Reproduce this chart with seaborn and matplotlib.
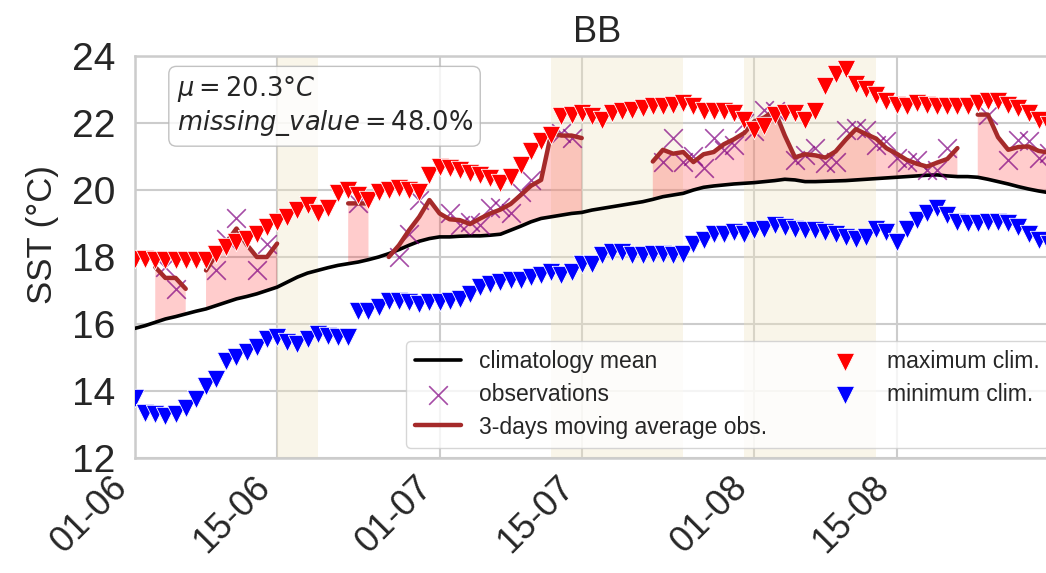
import numpy as np
import pandas as pd
import matplotlib
matplotlib.use("Agg")
import matplotlib.pyplot as plt
import matplotlib.dates as mdates
import seaborn as sns

# Daily series, 1 June -> 31 August
start_date = "2021-06-01"

clim_mean = [
    15.87, 15.95, 16.05, 16.15, 16.22, 16.30, 16.38, 16.45, 16.55, 16.65,
    16.75, 16.82, 16.90, 17.00, 17.10, 17.25, 17.40, 17.52, 17.60, 17.68,
    17.75, 17.80, 17.85, 17.92, 18.00, 18.10, 18.22, 18.35, 18.47, 18.55,
    18.60, 18.60, 18.62, 18.63, 18.63, 18.65, 18.68, 18.80, 18.92, 19.05,
    19.15, 19.20, 19.25, 19.30, 19.33, 19.40, 19.45, 19.50, 19.55, 19.60,
    19.65, 19.72, 19.80, 19.85, 19.90, 20.00, 20.08, 20.12, 20.15, 20.18,
    20.20, 20.22, 20.25, 20.28, 20.32, 20.30, 20.25, 20.25, 20.26, 20.27,
    20.28, 20.30, 20.32, 20.34, 20.36, 20.38, 20.40, 20.42, 20.44, 20.45,
    20.42, 20.40, 20.40, 20.38, 20.32, 20.25, 20.18, 20.10, 20.03, 19.97,
    19.92, 19.88,
]

max_clim = [
    17.95, 17.95, 17.92, 17.92, 17.90, 17.90, 17.90, 17.92, 18.10, 18.30,
    18.45, 18.55, 18.70, 18.90, 19.05, 19.20, 19.40, 19.55, 19.30, 19.45,
    19.90, 20.00, 19.85, 19.70, 19.95, 20.00, 20.05, 20.00, 19.95, 20.45,
    20.70, 20.65, 20.60, 20.50, 20.45, 20.35, 20.20, 20.40, 20.75, 21.15,
    21.45, 21.65, 22.20, 22.25, 22.30, 22.20, 22.10, 22.30, 22.35, 22.40,
    22.45, 22.50, 22.50, 22.55, 22.60, 22.50, 22.35, 22.35, 22.35, 22.30,
    22.10, 21.80, 21.90, 22.25, 22.30, 22.30, 22.10, 22.35, 23.10, 23.45,
    23.60, 23.15, 23.00, 22.85, 22.65, 22.55, 22.50, 22.60, 22.55, 22.50,
    22.50, 22.50, 22.50, 22.60, 22.65, 22.65, 22.55, 22.45, 22.30, 22.10,
    21.95, 21.85,
]

min_clim = [
    13.80, 13.35, 13.30, 13.25, 13.30, 13.50, 13.75, 14.15, 14.35, 14.90,
    15.00, 15.15, 15.30, 15.55, 15.60, 15.45, 15.40, 15.55, 15.70, 15.65,
    15.60, 15.60, 16.40, 16.40, 16.50, 16.70, 16.70, 16.65, 16.60, 16.65,
    16.65, 16.70, 16.75, 16.90, 17.10, 17.20, 17.25, 17.30, 17.30, 17.40,
    17.45, 17.55, 17.45, 17.55, 17.80, 17.80, 18.05, 18.15, 18.15, 18.05,
    18.05, 18.10, 18.10, 18.05, 18.10, 18.40, 18.50, 18.70, 18.70, 18.75,
    18.70, 18.80, 18.85, 18.95, 18.90, 18.85, 18.80, 18.80, 18.75, 18.70,
    18.60, 18.55, 18.60, 18.85, 18.75, 18.45, 18.85, 19.10, 19.30, 19.45,
    19.25, 19.05, 19.00, 19.00, 19.05, 19.05, 19.00, 18.90, 18.70, 18.50,
    18.40, 18.35,
]

nan = np.nan
observations = [
    nan, nan, nan, 17.70, 17.05, nan, nan, nan, 17.60, 18.55,
    19.15, nan, 17.60, 18.40, nan, nan, nan, nan, nan, nan,
    nan, nan, 19.60, nan, nan, nan, 18.00, 18.70, 19.70, nan,
    nan, 19.30, 18.95, 19.05, 18.95, 19.45, 19.50, 19.30, 19.95, 20.30,
    nan, nan, 21.70, 21.55, nan, nan, nan, nan, nan, nan,
    nan, nan, 20.85, 21.55, 20.85, 21.00, 20.65, 21.55, 21.20, 21.35,
    22.00, 21.75, 22.40, 22.35, nan, 20.90, 21.05, 21.25, 20.80, 20.85,
    21.80, 21.85, 21.80, 21.35, 21.45, 20.95, 20.85, 20.90, 20.60, 20.60,
    21.25, nan, nan, nan, 22.25, nan, 20.90, 21.50, 21.45, 20.95,
    21.10, 21.30,
]

# Shaded event periods (start, end)
event_periods = [
    ("2021-06-15", "2021-06-19"),
    ("2021-07-12", "2021-07-25"),
    ("2021-07-31", "2021-08-13"),
]

mean_sst = 20.3
missing_pct = 48.0

sns.set_theme(style="whitegrid")
plt.rcParams["font.family"] = ["Liberation Sans", "DejaVu Sans"]
plt.rcParams["grid.linewidth"] = 1.5
plt.rcParams["axes.linewidth"] = 1.8

dates = pd.date_range(start_date, periods=len(clim_mean), freq="D")
df = pd.DataFrame({
    "date": dates,
    "mean": clim_mean,
    "max": max_clim,
    "min": min_clim,
    "obs": observations,
})
df["mavg"] = df["obs"].rolling(3, center=True, min_periods=1).mean()

fig = plt.figure(figsize=(10.46, 5.73), dpi=100)
ax = fig.add_axes([0.129, 0.2007, 0.8834, 0.7016])

for a, b in event_periods:
    ax.axvspan(pd.Timestamp(a), pd.Timestamp(b), color="#efe5c0", alpha=0.35,
               lw=0, zorder=0.8)

ax.fill_between(df["date"], df["mean"], df["mavg"], where=df["mavg"].notna(),
                color="red", alpha=0.2, lw=0, zorder=1)

sns.lineplot(data=df, x="date", y="mean", color="black", lw=2.6, ax=ax,
             label="climatology mean", zorder=3)
sns.scatterplot(data=df, x="date", y="obs", marker="x", color="purple",
                s=180, linewidth=1.2, alpha=0.7, ax=ax,
                label="observations", zorder=4)
ax.plot(df["date"], df["mavg"], color="brown", lw=3.2,
        label="3-days moving average obs.", zorder=5)
sns.scatterplot(data=df, x="date", y="max", marker="v", color="red",
                s=175, edgecolor="white", linewidth=0.6, ax=ax,
                label="maximum clim.", zorder=6)
sns.scatterplot(data=df, x="date", y="min", marker="v", color="blue",
                s=175, edgecolor="white", linewidth=0.6, ax=ax,
                label="minimum clim.", zorder=6)

ax.set_xlim(dates[0], dates[-1])
ax.set_ylim(12, 24)
ax.set_yticks(np.arange(12, 25, 2))
ax.xaxis.set_major_locator(mdates.DayLocator(bymonthday=[1, 15]))
ax.xaxis.set_major_formatter(mdates.DateFormatter("%d-%m"))
ax.tick_params(axis="y", labelsize=28, length=0, pad=14)
ax.tick_params(axis="x", labelsize=26, length=0, pad=8)
for lab in ax.get_xticklabels():
    lab.set_rotation(45)
    lab.set_ha("right")

ax.set_xlabel("")
ax.set_ylabel("SST (°C)", fontsize=25)
ax.yaxis.set_label_coords(-0.082, 0.555)
ax.set_title("BB", fontsize=26, pad=10)

ax.text(0.045, 0.955,
        r"$\mu=%.1f°C$" % mean_sst + "\n" + r"$missing\_value=%.1f\%%$" % missing_pct,
        transform=ax.transAxes, va="top", ha="left", fontsize=18.5,
        bbox=dict(boxstyle="round", facecolor="white", edgecolor="0.7",
                  alpha=0.8), zorder=10)

ax.legend(loc="lower right", ncol=2, fontsize=16.5, frameon=True,
          framealpha=0.8, edgecolor="0.8", labelspacing=0.42,
          columnspacing=2.4, handlelength=2.0, borderaxespad=0.45)

fig.savefig("out.png", dpi=100)
